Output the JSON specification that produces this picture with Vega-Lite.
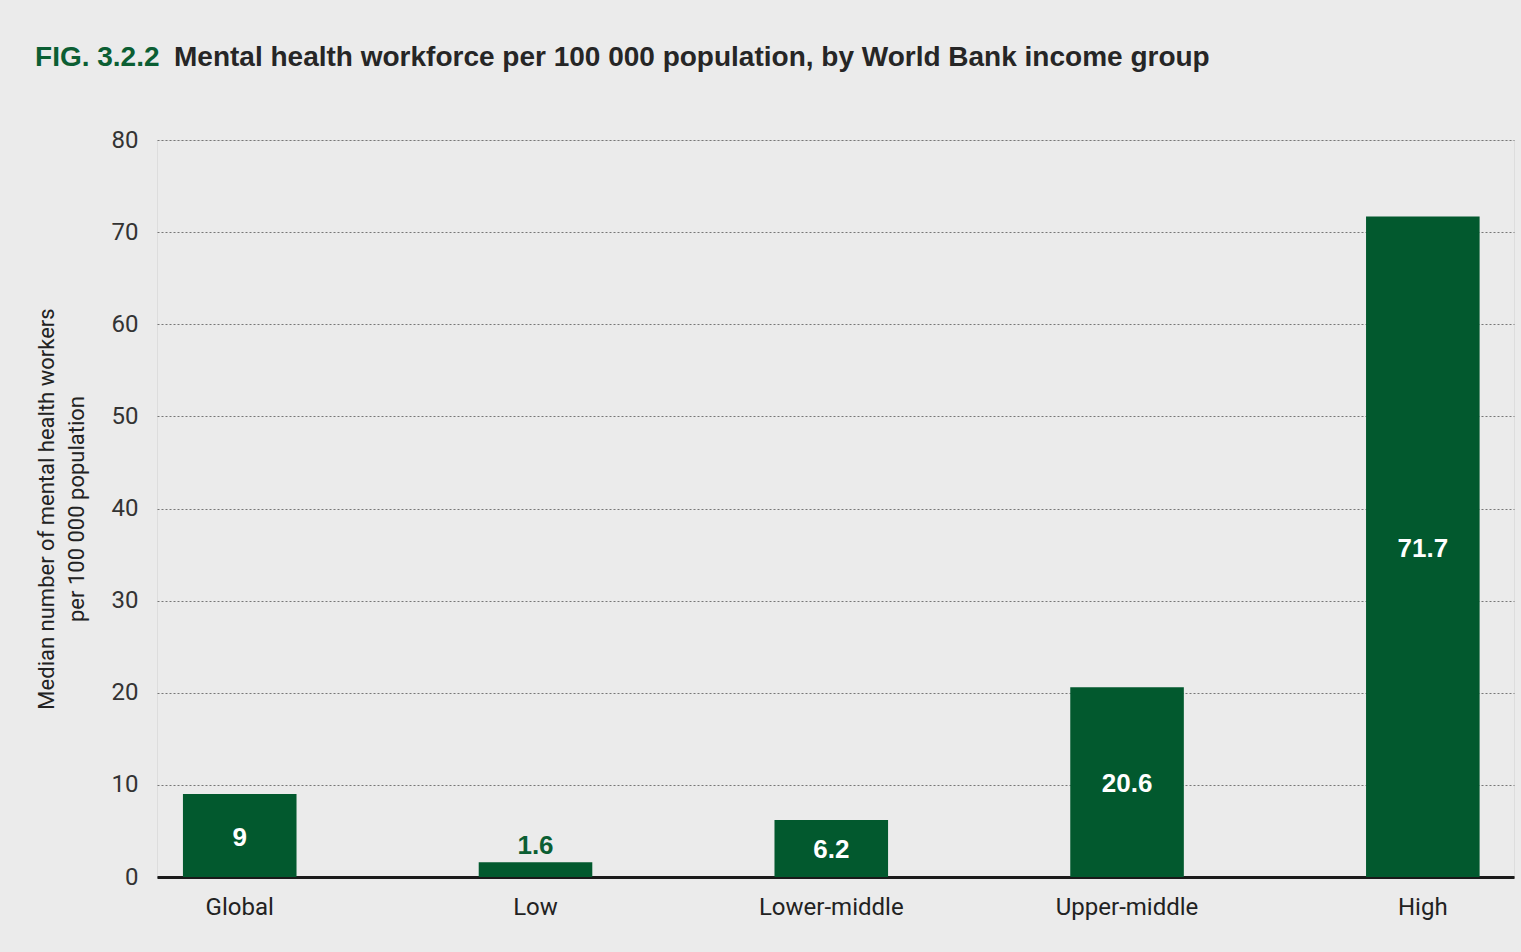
{
  "$schema": "https://vega.github.io/schema/vega-lite/v6.json",
  "width": 1357,
  "height": 737,
  "autosize": {"type": "none"},
  "padding": {"left": 157, "top": 140, "right": 7, "bottom": 75},
  "background": "#ebebeb",
  "title": {
    "text": "FIG. 3.2.2",
    "subtitle": "Mental health workforce per 100 000 population, by World Bank income group",
    "anchor": "start",
    "frame": "bounds",
    "font": "Liberation Sans",
    "fontSize": 28,
    "fontWeight": "bold",
    "color": "#0b5e33",
    "subtitleFont": "Liberation Sans",
    "subtitleFontSize": 28,
    "subtitleFontWeight": "bold",
    "subtitleColor": "#262626",
    "subtitlePadding": -28,
    "offset": 56,
    "encode": {"subtitle": {"update": {"dx": {"value": 139}}}}
  },
  "data": {
    "values": [
      {"group": "Global", "value": 9},
      {"group": "Low", "value": 1.6},
      {"group": "Lower-middle", "value": 6.2},
      {"group": "Upper-middle", "value": 20.6},
      {"group": "High", "value": 71.7}
    ]
  },
  "layer": [
    {
      "mark": {"type": "bar", "color": "#02592e"},
      "encoding": {
        "x": {
          "field": "group",
          "type": "nominal",
          "sort": null,
          "scale": {"paddingInner": 0.616, "paddingOuter": 0.102, "align": 0.43},
          "axis": {
            "title": null,
            "labelAngle": 0,
            "labelFont": "Roboto",
            "labelFontSize": 24,
            "labelColor": "#222222",
            "labelPadding": 18,
            "ticks": false,
            "domain": true,
            "domainColor": "#1a1a1a",
            "domainWidth": 3,
            "grid": false
          }
        },
        "y": {
          "field": "value",
          "type": "quantitative",
          "scale": {"domain": [0, 80], "nice": false},
          "axis": {
            "title": ["Median number of mental health workers", "per 100 000 population"],
            "titleFont": "Roboto",
            "titleFontSize": 22,
            "titleFontWeight": "normal",
            "titleColor": "#222222",
            "titlePadding": 23,
            "titleLineHeight": 30,
            "labelFont": "Roboto",
            "labelFontSize": 24,
            "labelColor": "#333333",
            "labelPadding": 19,
            "ticks": false,
            "domain": false,
            "grid": true,
            "gridColor": "#777777",
            "gridDash": [2, 2],
            "gridWidth": 1,
            "values": [0, 10, 20, 30, 40, 50, 60, 70, 80]
          }
        }
      }
    },
    {
      "transform": [{"filter": "datum.value > 3"}],
      "mark": {"type": "text", "color": "#ffffff", "font": "Liberation Sans", "fontWeight": "bold", "fontSize": 26, "baseline": "middle", "dy": 2},
      "encoding": {
        "x": {"field": "group", "type": "nominal", "sort": null},
        "y": {"field": "value", "type": "quantitative", "scale": {"domain": [0, 160], "nice": false}, "axis": null},
        "text": {"field": "value", "type": "nominal"}
      }
    },
    {
      "transform": [{"filter": "datum.value <= 3"}],
      "mark": {"type": "text", "color": "#0b5e33", "font": "Liberation Sans", "fontWeight": "bold", "fontSize": 26, "baseline": "alphabetic", "dy": -8},
      "encoding": {
        "x": {"field": "group", "type": "nominal", "sort": null},
        "y": {"field": "value", "type": "quantitative", "scale": {"domain": [0, 80], "nice": false}, "axis": null},
        "text": {"field": "value", "type": "nominal"}
      }
    }
  ],
  "resolve": {"scale": {"y": "independent"}}
}
